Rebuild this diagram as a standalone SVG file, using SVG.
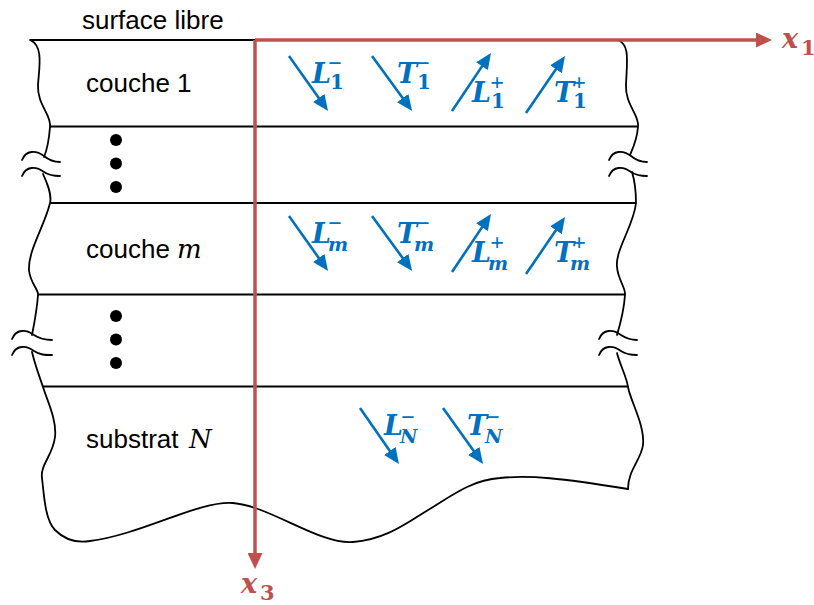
<svg xmlns="http://www.w3.org/2000/svg" width="814" height="605" viewBox="0 0 814 605">
<defs>
<style>
.edge{fill:none;stroke:#000;stroke-width:1.8;stroke-linecap:round}
.hl{stroke:#000;stroke-width:2}
.lbl{font-family:"Liberation Sans",Arial,sans-serif;font-size:26px;fill:#000}
.mi{font-family:"DejaVu Serif","Liberation Serif",serif;font-style:italic;font-size:26px;fill:#000}
.wave{stroke:#0070C0;stroke-width:2.6;fill:none}
.bl{font-family:"DejaVu Serif","Liberation Serif",serif;font-style:italic;font-weight:bold;font-size:27px;fill:#0070C0}
.bs{font-family:"DejaVu Serif","Liberation Serif",serif;font-weight:bold;font-size:20px;fill:#0070C0}
.bsi{font-family:"DejaVu Serif","Liberation Serif",serif;font-style:italic;font-weight:bold;font-size:19px;fill:#0070C0}
.bp{font-family:"Liberation Serif",serif;font-weight:bold;font-size:24px;fill:#0070C0;text-anchor:middle}
.ax{stroke:#C0504D;stroke-width:3.5;fill:none}
.axl{font-family:"DejaVu Serif","Liberation Serif",serif;font-style:italic;font-weight:bold;font-size:27px;fill:#C0504D}
.axs{font-family:"DejaVu Serif","Liberation Serif",serif;font-weight:bold;font-size:21px;fill:#C0504D}
</style>
<marker id="ba" markerUnits="userSpaceOnUse" markerWidth="16" markerHeight="14" refX="8" refY="7" orient="auto">
<path d="M0,0 L16,7 L0,14 z" fill="#0070C0"/>
</marker>
<marker id="ra" markerUnits="userSpaceOnUse" markerWidth="16" markerHeight="15" refX="1" refY="7.5" orient="auto">
<path d="M0,0 L16,7.5 L0,15 z" fill="#C0504D"/>
</marker>
</defs>
<rect width="814" height="605" fill="#fff"/>

<g id="outline">
<path class="edge" d="M30,40 C44,46 39,68 38,85 C37,105 52,115 50,127 C49,140 47,150 44,157"/>
<path class="edge" d="M22,160 C26,150 36,150 44,156 C50,161 55,162 60,162"/>
<path class="edge" d="M22,176 C26,166 36,166 44,172 C50,176 55,176 60,176"/>
<path class="edge" d="M43,174 C48,185 52,195 50,203 C45,225 28,250 29,270 C30,283 39,290 38,295 C37,310 34,325 32,335"/>
<path class="edge" d="M12,339 C16,329 26,329 34,335 C40,339 45,340 52,340"/>
<path class="edge" d="M12,355 C16,345 26,345 34,351 C40,355 45,355 52,355"/>
<path class="edge" d="M32,352 C35,365 40,378 43,387 C47,400 57,420 55,437 C53,455 40,465 42,478 C44,495 45,520 55,530 C65,540 78,543 90,541 C140,535 200,500 233,503 C270,506 320,545 353,542 C380,540 400,528 420,515 C450,497 470,480 500,478 C530,475 560,478 628,489"/>
<path class="edge" d="M618,40 C630,45 627,60 626,85 C625,105 640,115 638,127 C637,140 633,148 630,155"/>
<path class="edge" d="M609,160 C613,150 623,150 631,156 C637,161 642,162 647,162"/>
<path class="edge" d="M609,176 C613,166 623,166 631,172 C637,176 642,176 647,176"/>
<path class="edge" d="M632,172 C636,185 636,195 636,203 C634,225 615,250 617,267 C618,280 626,288 625,295 C624,310 620,325 617,335"/>
<path class="edge" d="M599,339 C603,329 613,329 621,335 C627,339 632,340 637,340"/>
<path class="edge" d="M599,355 C603,345 613,345 621,351 C627,355 632,355 637,355"/>
<path class="edge" d="M617,353 C620,365 627,378 628,387 C630,400 645,425 643,445 C641,460 628,470 628,489"/>
</g>

<g id="interfaces">
<line class="hl" x1="30" y1="40" x2="618" y2="40"/>
<line class="hl" x1="50" y1="126.5" x2="638" y2="126.5"/>
<line class="hl" x1="50" y1="203" x2="636" y2="203"/>
<line class="hl" x1="38" y1="294.5" x2="625" y2="294.5"/>
<line class="hl" x1="43" y1="386.5" x2="628" y2="386.5"/>
</g>

<g id="surface">
<text class="lbl" x="82" y="29">surface libre</text>
</g>

<g id="couche1">
<text class="lbl" x="86" y="92">couche 1</text>
<path class="wave" d="M289,56 L323.4,104.5" marker-end="url(#ba)"/>
<path class="wave" d="M372,56 L407.4,104.5" marker-end="url(#ba)"/>
<path class="wave" d="M452,111 L486.5,59.6" marker-end="url(#ba)"/>
<path class="wave" d="M526,113 L560.5,62.6" marker-end="url(#ba)"/>
<text class="bl" x="312" y="83">L</text><text class="bs" x="330" y="89">1</text><text class="bp" x="335" y="71">−</text>
<text class="bl" x="397" y="83">T</text><text class="bs" x="417" y="89">1</text><text class="bp" x="423" y="71">−</text>
<text class="bl" x="472" y="102">L</text><text class="bs" x="491" y="108">1</text><text class="bp" x="497" y="90">+</text>
<text class="bl" x="554" y="102">T</text><text class="bs" x="573" y="108">1</text><text class="bp" x="579" y="90">+</text>
</g>

<g id="dots1">
<circle cx="116" cy="140" r="6"/>
<circle cx="116" cy="163.5" r="6"/>
<circle cx="116" cy="187" r="6"/>
</g>

<g id="couchem">
<text class="lbl" x="86" y="258">couche</text><text class="mi" x="177" y="258">m</text>
<path class="wave" d="M289,216 L323.4,264.5" marker-end="url(#ba)"/>
<path class="wave" d="M372,216 L407.4,264.5" marker-end="url(#ba)"/>
<path class="wave" d="M452,272 L486.5,220.6" marker-end="url(#ba)"/>
<path class="wave" d="M526,274 L560.5,223.6" marker-end="url(#ba)"/>
<text class="bl" x="312" y="243">L</text><text class="bsi" x="328" y="251">m</text><text class="bp" x="335" y="231">−</text>
<text class="bl" x="397" y="243">T</text><text class="bsi" x="414" y="251">m</text><text class="bp" x="423" y="231">−</text>
<text class="bl" x="472" y="262">L</text><text class="bsi" x="488" y="270">m</text><text class="bp" x="497" y="250">+</text>
<text class="bl" x="554" y="262">T</text><text class="bsi" x="570" y="270">m</text><text class="bp" x="579" y="250">+</text>
</g>

<g id="dots2">
<circle cx="116" cy="316" r="6"/>
<circle cx="116" cy="339.5" r="6"/>
<circle cx="116" cy="363" r="6"/>
</g>

<g id="substrat">
<text class="lbl" x="86" y="448">substrat</text><text class="mi" x="189" y="448">N</text>
<path class="wave" d="M360,408 L394.4,457.5" marker-end="url(#ba)"/>
<path class="wave" d="M443,408 L478.4,457.5" marker-end="url(#ba)"/>
<text class="bl" x="384" y="435">L</text><text class="bsi" x="400" y="443">N</text><text class="bp" x="408" y="425">−</text>
<text class="bl" x="467" y="435">T</text><text class="bsi" x="485" y="443">N</text><text class="bp" x="493" y="425">−</text>
</g>

<g id="axes">
<path class="ax" d="M255,40 L757,40" marker-end="url(#ra)"/>
<path class="ax" d="M255,40 L255,554" marker-end="url(#ra)"/>
<text class="axl" x="782" y="48">x</text><text class="axs" x="801" y="55">1</text>
<text class="axl" x="241" y="593">x</text><text class="axs" x="260" y="600">3</text>
</g>
</svg>
